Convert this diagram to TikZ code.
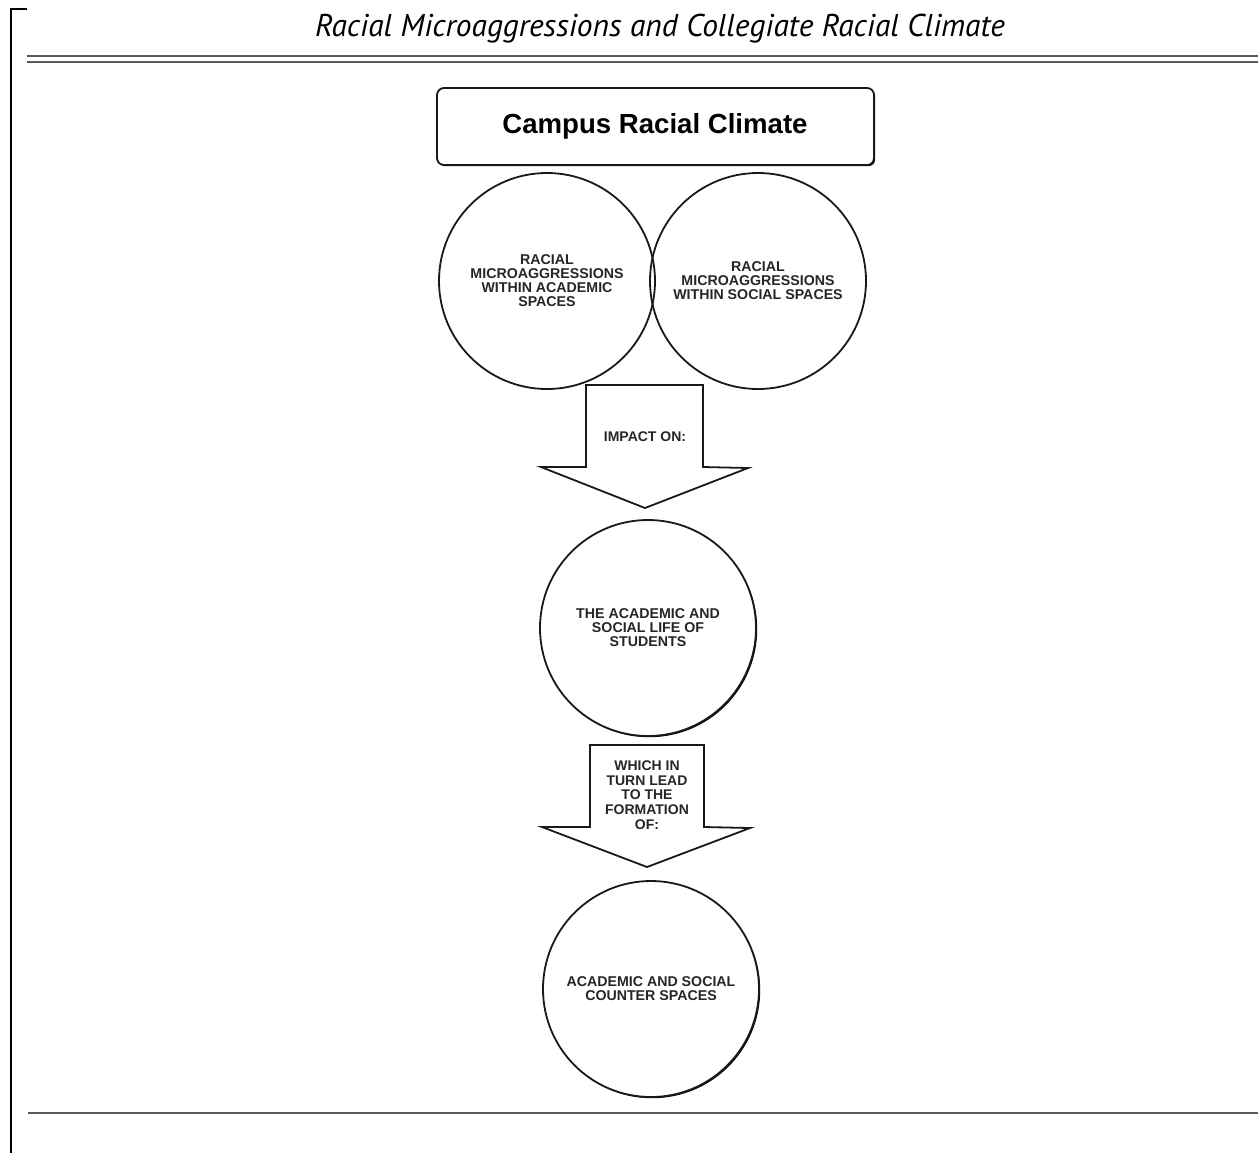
\documentclass[tikz,border=0pt]{standalone}
\usepackage{fontspec}
\usepackage{graphicx}
\setmainfont{Liberation Sans}
\newfontfamily\titlefont{PT Sans}
\usetikzlibrary{shadows}
\begin{document}
\begin{tikzpicture}[x=0.5pt,y=-0.5pt,
  ink/.style={draw=black!90, line width=0.9pt},
  bubble/.style={circle, ink, inner sep=0pt, align=center, minimum size=108pt,
     font=\bfseries\fontsize{7.1}{7}\selectfont, text=black!85},
  shade/.style={drop shadow={shadow xshift=0.6pt, shadow yshift=-0.6pt, fill=black, opacity=1}},
  arrowtxt/.style={align=center, inner sep=0pt, font=\bfseries\fontsize{7}{7.4}\selectfont, text=black!85},
  blockarrow/.style={ink, fill=white},
  rule/.style={draw=black!65, line width=1.1pt}]
\useasboundingbox (0,0) rectangle (1258,1153);
\fill[white] (0,0) rectangle (1258,1153);

% page frame and rules
\coordinate (frameTop) at (11,9);
\coordinate (frameTick) at (27,9);
\coordinate (frameBot) at (11,1153);
\draw[line width=1.1pt] (frameTick) -- (frameTop) -- (frameBot);
\coordinate (h1a) at (27,56); \coordinate (h1b) at (1258,56);
\coordinate (h2a) at (27,62); \coordinate (h2b) at (1258,62);
\coordinate (f1a) at (28,1113); \coordinate (f1b) at (1258,1113);
\draw[rule] (h1a) -- (h1b);
\draw[rule] (h2a) -- (h2b);
\draw[rule] (f1a) -- (f1b);

% title
\node (title) at (660,29) {\resizebox{345pt}{!}{\titlefont\itshape Racial Microaggressions and Collegiate Racial Climate}};

% top box
\draw[ink, rounded corners=3.5pt, shade, fill=white] (437,88) rectangle (874,165);
\node (climate) at (655,126) {\bfseries\fontsize{13.8}{14}\selectfont Campus Racial Climate};

% two overlapping circles
\node[bubble] (acad) at (547,281) {RACIAL\\MICROAGGRESSIONS\\WITHIN ACADEMIC\\SPACES};
\node[bubble] (soc) at (758,281) {RACIAL\\MICROAGGRESSIONS\\WITHIN SOCIAL SPACES};

% first block arrow
\draw[blockarrow] (586,385) -- (703,385) -- (703,467) -- (748,468) -- (645,508)
   -- (541,467) -- (586,467) -- cycle;
\node[arrowtxt] (impact) at (645,437) {IMPACT ON:};

% middle circle
\node[bubble, fill=white, shade] (life) at (648,628) {THE ACADEMIC AND\\SOCIAL LIFE OF\\STUDENTS};

% second block arrow
\draw[blockarrow] (590,745) -- (704,745) -- (704,827) -- (750,828) -- (647,867)
   -- (542,827) -- (590,827) -- cycle;
\node[arrowtxt] (lead) at (647,795) {WHICH IN\\TURN LEAD\\TO THE\\FORMATION\\OF:};

% bottom circle
\node[bubble, fill=white, shade, minimum size=108pt] (counter) at (651,989) {ACADEMIC AND SOCIAL\\COUNTER SPACES};
\end{tikzpicture}
\end{document}
